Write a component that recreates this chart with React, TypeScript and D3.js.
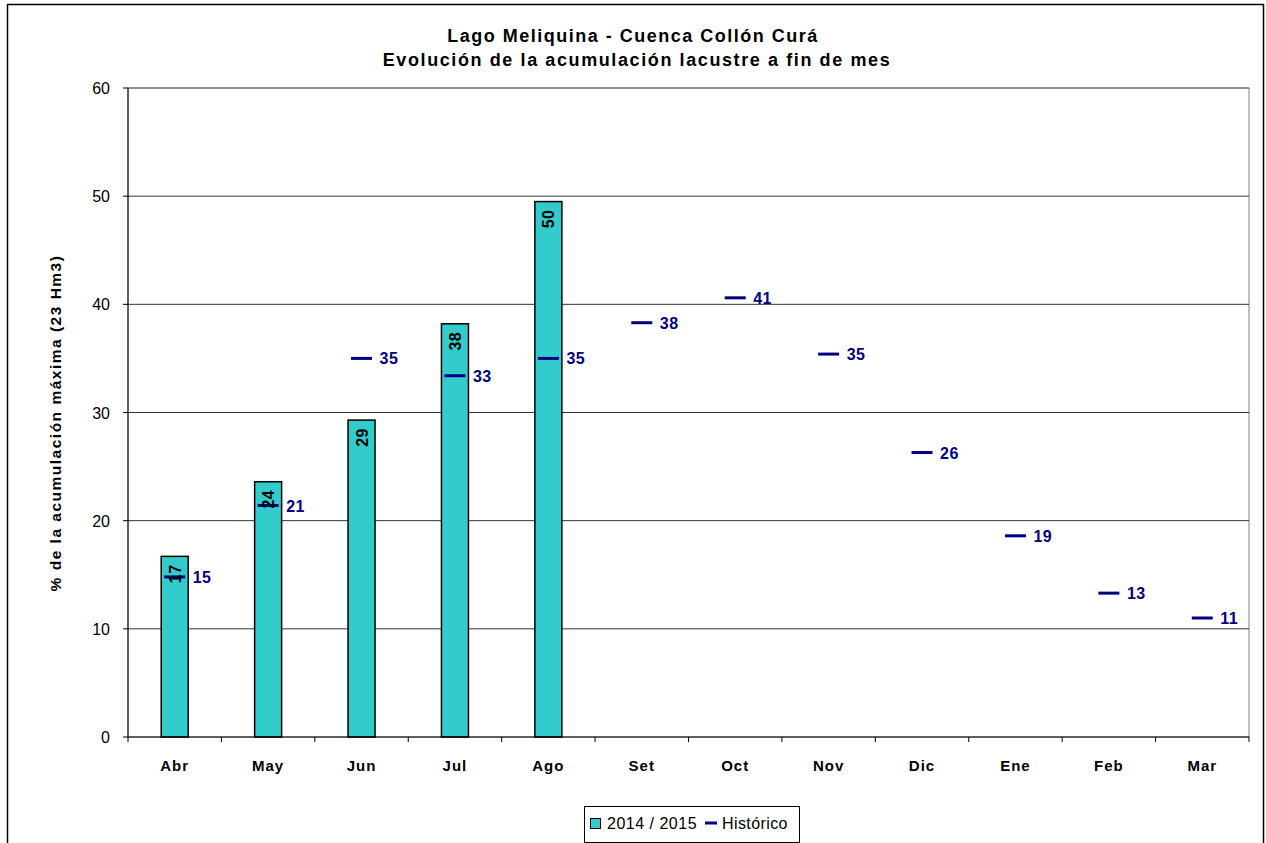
import * as d3 from "d3";

const months = ["Abr", "May", "Jun", "Jul", "Ago", "Set", "Oct", "Nov", "Dic", "Ene", "Feb", "Mar"];
const actual = [16.7, 23.6, 29.3, 38.2, 49.5];
const historico = [14.8, 21.4, 35.0, 33.4, 35.0, 38.3, 40.6, 35.4, 26.3, 18.6, 13.3, 11.0];
const yTicks = [0, 10, 20, 30, 40, 50, 60];

const W = 1266;
const H = 843;
const margin = { top: 88, right: 17, bottom: 106, left: 128 };
const font = "'Liberation Sans', Arial, sans-serif";

export default function App() {
  const innerW = W - margin.left - margin.right;
  const innerH = H - margin.top - margin.bottom;

  const x = d3.scaleBand<string>().domain(months).range([0, innerW]);
  const y = d3.scaleLinear().domain([0, 60]).range([innerH, 0]);
  const barW = 27;
  const dashW = 21;
  const mid = (m: string) => x(m)! + x.bandwidth() / 2;

  return (
    <svg
      width={W}
      height={H}
      style={{ position: "absolute", left: 0, top: 0, background: "#fff", fontFamily: font }}
    >
      {/* outer frame */}
      <rect x={7.5} y={4.5} width={1256} height={860} fill="none" stroke="#000" strokeWidth={1.5} />

      <text x={633} y={42} textAnchor="middle" fontSize={18} fontWeight="bold" letterSpacing={1.5}>
        Lago Meliquina - Cuenca Collón Curá
      </text>
      <text x={637} y={66} textAnchor="middle" fontSize={18} fontWeight="bold" letterSpacing={1.6}>
        Evolución de la acumulación lacustre a fin de mes
      </text>

      <g transform={`translate(${margin.left},${margin.top})`}>
        {/* plot border */}
        <rect x={0} y={0} width={innerW} height={innerH} fill="none" stroke="#808080" strokeWidth={1} />
        {/* gridlines */}
        {yTicks.slice(1).map(t => (
          <line key={t} x1={0} x2={innerW} y1={y(t)} y2={y(t)} stroke="#000" strokeWidth={1} strokeOpacity={t === 60 ? 0.5 : 0.8} />
        ))}

        {/* bars */}
        {actual.map((v, i) => {
          const cx = mid(months[i]);
          return (
            <rect key={months[i]} x={cx - barW / 2} y={y(v)} width={barW} height={innerH - y(v)} fill="#33CCCC" stroke="#000" strokeWidth={1.5} />
          );
        })}

        {/* historico dashes */}
        {historico.map((v, i) => {
          const cx = mid(months[i]);
          return (
            <g key={"h" + months[i]}>
              <line x1={cx - dashW / 2} x2={cx + dashW / 2} y1={y(v)} y2={y(v)} stroke="#000080" strokeWidth={3} />
              <text x={cx + 18} y={y(v) + 6} fontSize={16} fontWeight="bold" fill="#000080" letterSpacing={0.5}>
                {Math.round(v)}
              </text>
            </g>
          );
        })}

        {/* bar labels */}
        {actual.map((v, i) => {
          const cx = mid(months[i]);
          return (
            <text
              key={"l" + months[i]}
              transform={`translate(${cx + 6},${y(v) + 8}) rotate(-90)`}
              textAnchor="end"
              fontSize={16}
              fontWeight="bold"
              fill="#000"
              letterSpacing={0.5}
            >
              {Math.round(v)}
            </text>
          );
        })}

        {/* y axis */}
        <line x1={0} x2={0} y1={0} y2={innerH} stroke="#000" strokeWidth={1} />
        {yTicks.map(t => (
          <g key={"yt" + t}>
            <line x1={-5} x2={0} y1={y(t)} y2={y(t)} stroke="#000" />
            <text x={-18} y={y(t) + 6} textAnchor="end" fontSize={16} fill="#000">
              {t}
            </text>
          </g>
        ))}

        {/* x axis */}
        <line x1={0} x2={innerW} y1={innerH} y2={innerH} stroke="#000" strokeWidth={1} />
        {months.map(m => (
          <line key={"xt" + m} x1={x(m)!} x2={x(m)!} y1={innerH} y2={innerH + 5} stroke="#000" />
        ))}
        <line x1={innerW} x2={innerW} y1={innerH} y2={innerH + 5} stroke="#000" />
        {months.map(m => (
          <text key={"xl" + m} x={mid(m)} y={innerH + 34} textAnchor="middle" fontSize={15} fontWeight="bold" letterSpacing={1}>
            {m}
          </text>
        ))}

        <text
          transform={`translate(${-67},${335}) rotate(-90)`}
          textAnchor="middle"
          fontSize={15.5}
          fontWeight="bold"
          letterSpacing={1.5}
        >
          % de la acumulación máxima (23 Hm3)
        </text>
      </g>

      {/* legend */}
      <g transform="translate(584,806)">
        <rect x={0.5} y={0.5} width={215} height={36} fill="#fff" stroke="#000" strokeWidth={1} />
        <rect x={6.5} y={12.5} width={10} height={10} fill="#33CCCC" stroke="#000" strokeWidth={1} />
        <text x={23} y={23} fontSize={16} letterSpacing={0.5}>2014 / 2015</text>
        <line x1={121} x2={133} y1={17} y2={17} stroke="#000080" strokeWidth={3} />
        <text x={138} y={23} fontSize={16} letterSpacing={0.4}>Histórico</text>
      </g>
    </svg>
  );
}
